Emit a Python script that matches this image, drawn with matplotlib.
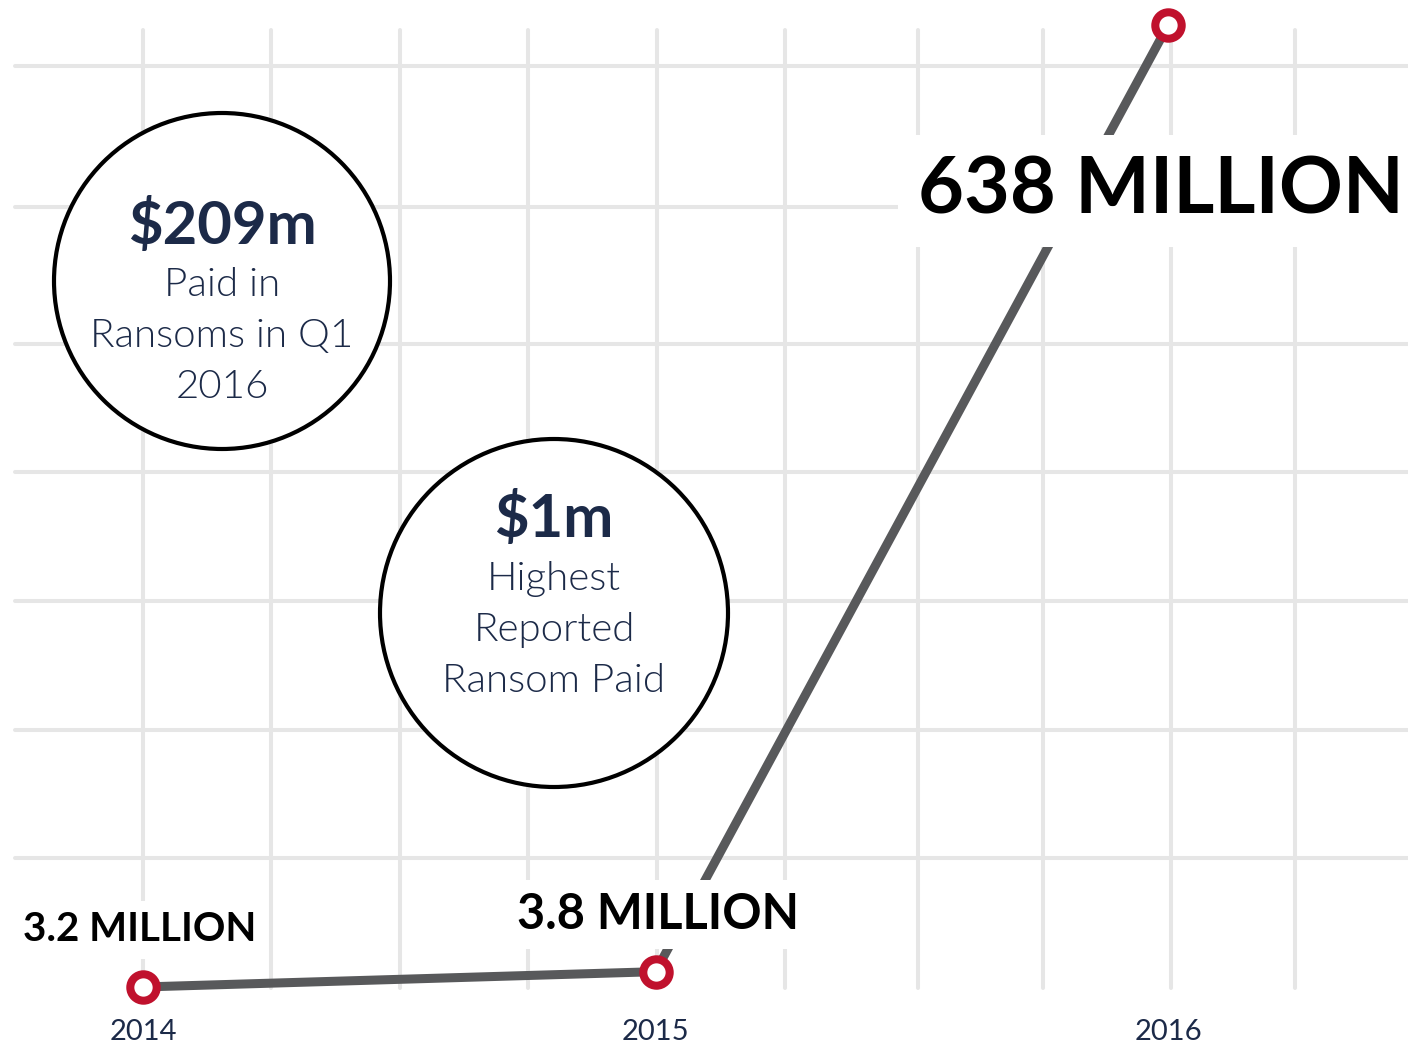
import matplotlib.pyplot as plt
import numpy as np

# data
years = [2014, 2015, 2016]
victims = [3.2, 3.8, 638]  # million
value_labels = ["3.2 MILLION", "3.8 MILLION", "638 MILLION"]
year_labels = ["2014", "2015", "2016"]

bubble_heads = ["$209m", "$1m"]
bubble_texts = ["Paid in\nRansoms in Q1\n2016", "Highest\nReported\nRansom Paid"]

navy = "#1c2a48"
red = "#c0112d"
line_grey = "#58595b"
grid_grey = "#e6e6e6"

W, H = 1408, 1043
fig = plt.figure(figsize=(W / 100, H / 100), dpi=100)

# background layer in pixel coords: grid + bubbles
bg = fig.add_axes([0, 0, 1, 1])
bg.set_xlim(0, W)
bg.set_ylim(H, 0)
bg.axis("off")

grid_x = [143, 271, 400, 528, 657, 785, 918, 1043, 1171, 1295]
grid_y = [66, 207, 344, 472, 601, 730, 858]
for gx in grid_x:
    bg.plot([gx, gx], [30, 988], color=grid_grey, lw=2.9, solid_capstyle="round", zorder=1)
for gy in grid_y:
    bg.plot([15, W + 10], [gy, gy], color=grid_grey, lw=2.9, solid_capstyle="round", zorder=1)

# circle centre/radius, then y of headline and of the sub-text block
bubbles = [(222, 281, 168, 226, 336), (554, 613, 174, 519, 630)]
for (cx, cy, r, hy, ty), head, txt in zip(bubbles, bubble_heads, bubble_texts):
    bg.add_patch(plt.Circle((cx, cy), r, facecolor="white", edgecolor="black", lw=3, zorder=3))
    bg.text(cx, hy, head, ha="center", va="center", fontsize=43, fontweight="bold",
            color=navy, family="Lato", zorder=4)
    bg.text(cx, ty, txt, ha="center", va="center", fontsize=29, fontweight=300,
            color=navy, family="Lato", linespacing=1.52, zorder=4)

# data layer
ax = fig.add_axes([0, 0, 1, 1])
ax.patch.set_alpha(0)
ax.set_yscale("function", functions=(lambda v: np.power(np.abs(v), 0.25),
                                     lambda v: np.power(v, 4)))
ax.set_xlim(2013.721, 2016.468)
ax.set_ylim(1.589, 688.1)
ax.axis("off")

ax.plot(years, victims, color=line_grey, lw=6.5, solid_capstyle="butt", zorder=5)
ax.plot(years, victims, "o", ms=19, mfc="white", mec=red, mew=5.8, zorder=8)

offsets = [(-3, 57), (2, 57), (-7, -166)]
sizes = [29, 35, 57]
for x, y, lab, (dx, dy), fs in zip(years, victims, value_labels, offsets, sizes):
    ax.annotate(lab, (x, y), xytext=(dx, dy), textcoords="offset pixels",
                ha="center", va="center", fontsize=fs, fontweight="bold", color="black",
                family="Lato", zorder=6,
                bbox=dict(boxstyle="square,pad=0.25", fc="white", ec="none"))

for x, lab in zip(years, year_labels):
    ax.text(x, 1 - 1032 / H, lab, transform=ax.get_xaxis_transform(), ha="center", va="center",
            fontsize=21, color=navy, family="Lato")

fig.savefig("out.png", dpi=100)
